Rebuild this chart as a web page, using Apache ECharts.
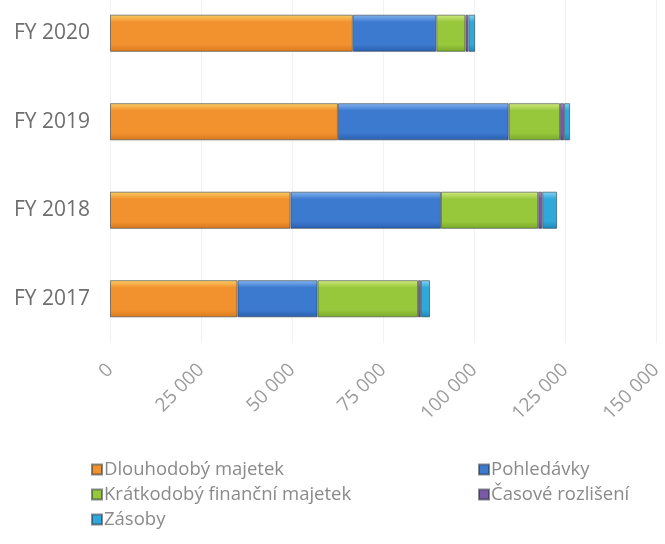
<!DOCTYPE html>
<html>
<head>
<meta charset="utf-8">
<script src="https://cdn.jsdelivr.net/npm/echarts@6/dist/echarts.min.js"></script>
<style>
  html, body { margin: 0; padding: 0; background: #fff; overflow: hidden; }
  /* graf je v originále nahoře oříznutý, proto posun nahoru */
  #chart { width: 665px; height: 555px; position: relative; top: -11px; }
</style>
</head>
<body>
<div id="chart"></div>
<script>
// roky, odspodu nahoru
const years = ['FY 2017', 'FY 2018', 'FY 2019', 'FY 2020']
const xTicks = [0, 25000, 50000, 75000, 100000, 125000, 150000]

// hodnoty (tis. Kč)
const dlouhodoby = [35000, 49600, 62600, 66700]
const pohledavky = [22000, 41300, 46900, 22900]
const kratkodoby = [27600, 26700, 14100, 8000]
const casove = [800, 1100, 1100, 800]
const zasoby = [2500, 4100, 1650, 1900]

const chart = echarts.init(document.getElementById('chart'))

// 3D efekt jako v Excelu – světlejší horní hrana
function bevel(top, mid, bottom) {
  return new echarts.graphic.LinearGradient(0, 0, 0, 1, [
    { offset: 0, color: top },
    { offset: 0.2, color: mid },
    { offset: 0.8, color: mid },
    { offset: 1, color: bottom },
  ])
}

function fmt(v) {
  return String(v).replace(/\B(?=(\d{3})+(?!\d))/g, ' ')
}

const font = 'Open Sans'

function bar(name, data, style) {
  return {
    name,
    type: 'bar',
    stack: 'total',
    data,
    barWidth: '42%',
    itemStyle: {
      color: style,
      borderColor: 'rgba(40,50,60,0.55)',
      borderWidth: 1,
    },
  }
}

const legendText = { color: '#8a8a8a', fontSize: 18.5, fontFamily: font, padding: [0, 0, 0, -3] }

chart.setOption({
  animation: false,
  textStyle: { fontFamily: font },
  grid: {
    left: 110,
    right: 1,
    top: 0,
    bottom: 201,
  },
  xAxis: {
    type: 'value',
    min: xTicks[0],
    max: xTicks[xTicks.length - 1],
    interval: 25000,
    axisLine: { show: false },
    axisTick: { show: false },
    splitLine: { show: true, lineStyle: { color: '#f1f1f1' } },
    axisLabel: {
      rotate: 45,
      margin: 24,
      color: '#9a9a9a',
      fontSize: 19,
      fontFamily: font,
      formatter: fmt,
    },
  },
  yAxis: {
    type: 'category',
    data: years,
    axisLine: { show: false },
    axisTick: { show: false },
    axisLabel: {
      color: '#6e6e6e',
      fontSize: 21,
      fontFamily: font,
      margin: 20,
    },
  },
  legend: [
    {
      orient: 'vertical',
      left: 86,
      top: 466,
      itemGap: 6,
      itemWidth: 10,
      itemHeight: 10,
      icon: 'rect',
      data: ['Dlouhodobý majetek', 'Krátkodobý finanční majetek', 'Zásoby'],
      textStyle: legendText,
    },
    {
      orient: 'vertical',
      left: 473,
      top: 466,
      itemGap: 6,
      itemWidth: 10,
      itemHeight: 10,
      icon: 'rect',
      data: ['Pohledávky', 'Časové rozlišení'],
      textStyle: legendText,
    },
  ],
  series: [
    bar('Dlouhodobý majetek', dlouhodoby, bevel('#fbcf66', '#f2922f', '#d9781c')),
    bar('Pohledávky', pohledavky, bevel('#86b6f0', '#3c7ad0', '#2a5fae')),
    bar('Krátkodobý finanční majetek', kratkodoby, bevel('#d3ea80', '#97c83c', '#7aa82a')),
    bar('Časové rozlišení', casove, bevel('#a98ccc', '#7a58a6', '#5e4186')),
    bar('Zásoby', zasoby, bevel('#86d6f4', '#2fa8da', '#1f88b8')),
  ],
})
</script>
</body>
</html>
